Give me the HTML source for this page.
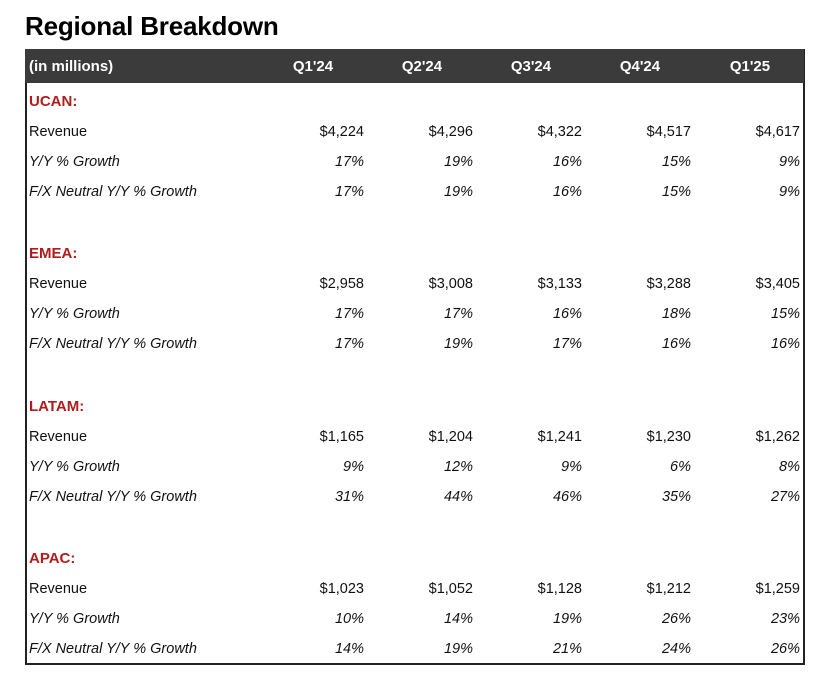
<!DOCTYPE html>
<html><head><meta charset="utf-8"><style>
body{margin:0;width:826px;height:679px;background:#fff;font-family:"Liberation Sans",Arial,sans-serif;position:relative;overflow:hidden}
.t{position:absolute;left:25px;top:11px;font-size:26px;font-weight:bold;color:#000;letter-spacing:-0.2px}
.box{position:absolute;left:25px;top:49px;width:776px;height:614px;border:2px solid #222;border-top:none}
.hdr{position:absolute;left:25px;top:49px;width:779px;height:34px;background:#3b3b3b}
.r{position:absolute;height:20px;line-height:20px;font-size:14.5px;color:#111}
.l{left:29px}
.v{text-align:right;width:100px}
.h{color:#fff;font-weight:bold;font-size:15px;text-align:center;width:100px}
.sec{color:#b01c1c;font-weight:bold;font-size:15px}
.i{font-style:italic}
</style></head><body>
<div class="t">Regional Breakdown</div>
<div class="box"></div>
<div class="hdr"></div>
<div class="r h" style="left:29px;top:57px;text-align:left;width:200px">(in millions)</div>
<div class="r h" style="left:263px;top:57px">Q1'24</div>
<div class="r h" style="left:372px;top:57px">Q2'24</div>
<div class="r h" style="left:481px;top:57px">Q3'24</div>
<div class="r h" style="left:590px;top:57px">Q4'24</div>
<div class="r h" style="left:700px;top:57px">Q1'25</div>
<div id="c"></div>
<script>
var d=[["UCAN:",["$4,224","$4,296","$4,322","$4,517","$4,617"],["17%","19%","16%","15%","9%"],["17%","19%","16%","15%","9%"]],
["EMEA:",["$2,958","$3,008","$3,133","$3,288","$3,405"],["17%","17%","16%","18%","15%"],["17%","19%","17%","16%","16%"]],
["LATAM:",["$1,165","$1,204","$1,241","$1,230","$1,262"],["9%","12%","9%","6%","8%"],["31%","44%","46%","35%","27%"]],
["APAC:",["$1,023","$1,052","$1,128","$1,212","$1,259"],["10%","14%","19%","26%","23%"],["14%","19%","21%","24%","26%"]]];
var labs=["Revenue","Y/Y % Growth","F/X Neutral Y/Y % Growth"];
var rights=[364,473,582,691,800];var h="";
d.forEach(function(s,si){var y0=102+si*152.4;
h+='<div class="r l sec" style="top:'+(y0-10)+'px">'+s[0]+'</div>';
for(var k=0;k<3;k++){var y=y0+30*(k+1)-10;var it=k>0?' i':'';
h+='<div class="r l'+it+'" style="top:'+y+'px">'+labs[k]+'</div>';
s[k+1].forEach(function(v,j){h+='<div class="r v'+it+'" style="left:'+(rights[j]-100)+'px;top:'+y+'px">'+v+'</div>';});}});
document.getElementById('c').innerHTML=h;
</script>
</body></html>
